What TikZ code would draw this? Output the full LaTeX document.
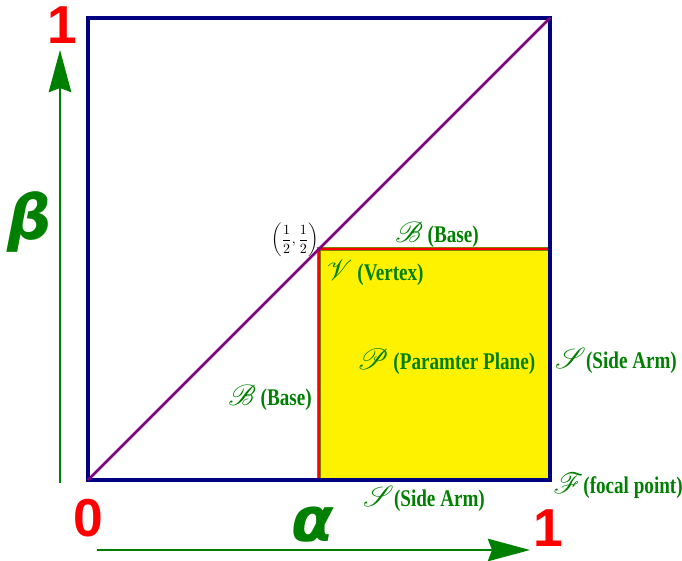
\documentclass[tikz,border=0pt]{standalone}
\usepackage{amsmath}
\usepackage{mathrsfs}
\usepackage{fontspec}
\usepackage{tikz}
\usetikzlibrary{arrows.meta, positioning, calc}
\newfontfamily\lblfont[FakeStretch=0.8]{Liberation Serif}
\newfontfamily\digitfont{Liberation Sans}
\newfontfamily\axisfont{DejaVu Sans}
\definecolor{lblgreen}{HTML}{008000}
\definecolor{boxblue}{HTML}{000080}
\definecolor{diagpurple}{HTML}{800080}
\definecolor{planered}{HTML}{FF0000}
\definecolor{planeedge}{HTML}{808000}
\newcommand{\scrlet}[1]{{\fontsize{21}{22}\selectfont$\mathscr{#1}$}}
\tikzset{
  lbl/.style={
    text=lblgreen, inner sep=0pt,
    font=\lblfont\bfseries\fontsize{17}{20}\selectfont,
  },
  endval/.style={
    text=planered, inner sep=0pt,
    font=\digitfont\bfseries\fontsize{38}{40}\selectfont,
  },
  axisname/.style={
    text=lblgreen, inner sep=0pt,
    font=\axisfont\bfseries\itshape\fontsize{44}{50}\selectfont,
  },
  axisarrow/.style={-{Stealth[length=30pt, width=16pt, inset=3pt]}, line width=1.5pt, draw=lblgreen},
  unitbox/.style={draw=boxblue, line width=2.2pt},
  diag/.style={draw=diagpurple, line width=1.8pt},
}

\begin{document}
\begin{tikzpicture}[x=0.025cm, y=-0.025cm]
  \useasboundingbox (0,0) rectangle (682,560);

  % corners of the unit square and the parameter plane
  \coordinate (O) at (88,480);
  \coordinate (A) at (550,480);
  \coordinate (C) at (550,18);
  \coordinate (M) at (319,249);

  \fill[yellow] (M) rectangle (A);
  \draw[planeedge, line width=3pt] (M) rectangle (A);
  \draw[planered, line width=1.3pt] (M) rectangle (A);
  \draw[unitbox] (O) rectangle (C);
  \draw[diag] (O) -- (C);

  % axes
  \coordinate (vstart) at (60,483);
  \coordinate (vtip) at (60,50);
  \coordinate (hstart) at (97,550);
  \coordinate (htip) at (530,550);
  \draw[axisarrow] (vstart) -- (vtip);
  \draw[axisarrow] (hstart) -- (htip);

  \node[endval] (topone) at (62,25) {1};
  \node[endval] (rightone) at (548,528) {1};
  \node[endval] (zero) at (88,518) {0};
  \node[axisname] (alpha) at (313,525) {α};
  \node[axisname] (beta) at (30,222) {β};

  % labels
  \node[inner sep=0pt] (half) at (295,240) {$\displaystyle\left(\frac{1}{2},\frac{1}{2}\right)$};
  \node[lbl] (vertex) at (375,273) {\scrlet{V} (Vertex)};
  \node[lbl] (basetop) at (437,235) {\scrlet{B} (Base)};
  \node[lbl] (plane) at (446,362) {\scrlet{P} (Paramter Plane)};
  \node[lbl] (armright) at (616,361) {\scrlet{S}(Side Arm)};
  \node[lbl] (baseleft) at (270,398) {\scrlet{B} (Base)};
  \node[lbl] (armbottom) at (424,499) {\scrlet{S}(Side Arm)};
  \node[lbl] (focal) at (618,486) {\scrlet{F}(focal point)};

\end{tikzpicture}
\end{document}
